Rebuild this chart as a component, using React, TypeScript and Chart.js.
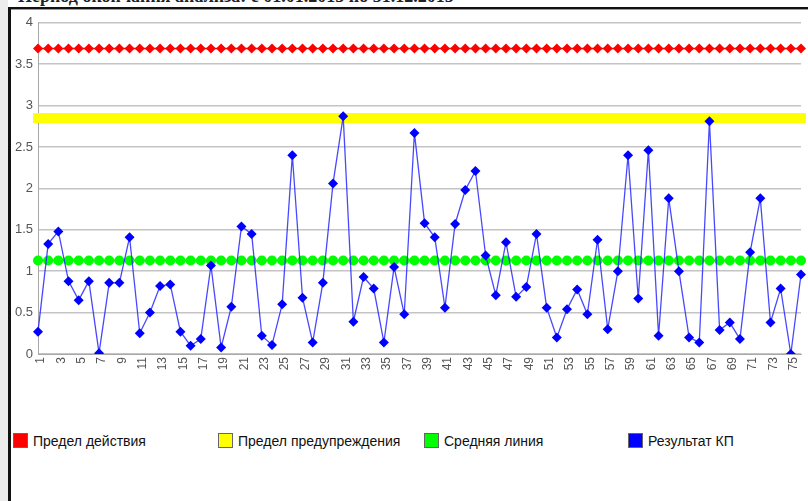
import React, { useEffect, useRef } from "react";
import { Chart, registerables } from "chart.js";

Chart.register(...registerables);

const categories: string[] = [
  "1","2","3","4","5","6","7","8","9","10","11","12","13","14","15","16","17","18","19","20",
  "21","22","23","24","25","26","27","28","29","30","31","32","33","34","35","36","37","38","39","40",
  "41","42","43","44","45","46","47","48","49","50","51","52","53","54","55","56","57","58","59","60",
  "61","62","63","64","65","66","67","68","69","70","71","72","73","74","75","76",
];

const resultValues: number[] = [
  0.27, 1.33, 1.48, 0.88, 0.65, 0.88, 0.01, 0.86, 0.86, 1.41,
  0.25, 0.50, 0.82, 0.84, 0.27, 0.10, 0.18, 1.07, 0.08, 0.57,
  1.54, 1.45, 0.22, 0.11, 0.60, 2.40, 0.68, 0.14, 0.86, 2.06,
  2.87, 0.39, 0.93, 0.79, 0.14, 1.05, 0.48, 2.67, 1.58, 1.41,
  0.56, 1.57, 1.98, 2.21, 1.19, 0.71, 1.35, 0.69, 0.81, 1.45,
  0.56, 0.20, 0.54, 0.78, 0.48, 1.38, 0.30, 1.00, 2.40, 0.67,
  2.46, 0.22, 1.88, 1.00, 0.20, 0.14, 2.81, 0.29, 0.38, 0.18,
  1.23, 1.88, 0.38, 0.79, 0.00, 0.96,
];

const actionLimit = 3.69;
const warningLimit = 2.85;
const meanLine = 1.13;

const seriesNames: string[] = [
  "Предел действия",
  "Предел предупреждения",
  "Средняя линия",
  "Результат КП",
];
const seriesColors: string[] = ["#ff0000", "#ffff00", "#00ff00", "#0000ff"];

const yTicks: number[] = [0, 0.5, 1, 1.5, 2, 2.5, 3, 3.5, 4];

const titleText = "Период окончания анализа: с 01.01.2015 по 31.12.2015";

export default function App() {
  const canvasRef = useRef<HTMLCanvasElement | null>(null);

  useEffect(() => {
    document.body.style.margin = "0";
    const canvas = canvasRef.current;
    if (!canvas) return;
    const constant = (v: number) => categories.map(() => v);
    const chart = new Chart(canvas, {
      type: "line",
      data: {
        labels: categories,
        datasets: [
          {
            label: seriesNames[0],
            data: constant(actionLimit),
            borderColor: seriesColors[0],
            backgroundColor: seriesColors[0],
            borderWidth: 1.5,
            pointStyle: "rectRot",
            pointRadius: 5,
            pointBorderWidth: 0,
            order: 3,
          },
          {
            label: seriesNames[1],
            data: constant(warningLimit),
            borderColor: seriesColors[1],
            backgroundColor: seriesColors[1],
            borderWidth: 10,
            pointStyle: "rect",
            pointRadius: 7,
            pointBorderWidth: 0,
            order: 3,
          },
          {
            label: seriesNames[2],
            data: constant(meanLine),
            borderColor: seriesColors[2],
            backgroundColor: seriesColors[2],
            borderWidth: 2,
            pointStyle: "circle",
            pointRadius: 5,
            pointBorderWidth: 0,
            order: 2,
          },
          {
            label: seriesNames[3],
            data: resultValues,
            borderColor: "rgba(40,40,255,0.85)",
            backgroundColor: seriesColors[3],
            borderWidth: 1.3,
            pointStyle: "rectRot",
            pointRadius: 5,
            pointBorderWidth: 0,
            order: 1,
          },
        ],
      },
      options: {
        animation: false,
        responsive: false,
        maintainAspectRatio: false,
        layout: { padding: { top: 10, right: 6, left: 0, bottom: 0 } },
        plugins: {
          legend: { display: false },
          tooltip: { enabled: false },
          title: { display: false },
        },
        scales: {
          x: {
            offset: false,
            grid: { display: false, drawTicks: false },
            border: { display: true, color: "#a8a8a8", width: 1 },
            ticks: {
              autoSkip: false,
              maxRotation: 90,
              minRotation: 90,
              padding: 3,
              labelOffset: 3,
              color: "#555555",
              font: { family: "'Liberation Sans', Arial, sans-serif", size: 12 },
              callback: (_v: any, i: number) => (i % 2 === 0 ? categories[i] : ""),
            },
            afterFit: (s: any) => {
              s.height = 36;
              s.paddingLeft = 0;
              s.paddingRight = 0;
            },
          },
          y: {
            min: 0,
            max: 4,
            afterBuildTicks: (s: any) => {
              s.ticks = yTicks.map((v) => ({ value: v }));
            },
            grid: { color: "#c4c4c4", lineWidth: 1.5, drawTicks: false },
            border: { display: true, color: "#a8a8a8", width: 1 },
            ticks: {
              padding: 5,
              color: "#555555",
              font: { family: "'Liberation Sans', Arial, sans-serif", size: 13 },
              callback: (v: any) => String(v),
            },
            afterFit: (s: any) => {
              s.width = 28;
            },
          },
        },
      },
    });
    return () => chart.destroy();
  }, []);

  const legendLefts = [13, 218, 424, 628];

  return (
    <div
      style={{
        position: "relative",
        width: 808,
        height: 501,
        overflow: "hidden",
        background: "#ffffff",
        fontFamily: "'Liberation Sans', Arial, sans-serif",
      }}
    >
      <div style={{ position: "absolute", left: 0, top: 0, width: 8, height: 501, background: "#ececec" }} />
      <div
        style={{
          position: "absolute",
          left: 18,
          top: -13,
          fontWeight: "bold",
          fontSize: 18,
          lineHeight: "18px",
          whiteSpace: "nowrap",
          color: "#222",
          fontFamily: "'Liberation Serif', 'Times New Roman', serif",
        }}
      >
        {titleText}
      </div>
      <div style={{ position: "absolute", left: 8, top: 7, width: 800, height: 2, background: "#111" }} />
      <div style={{ position: "absolute", left: 8, top: 9, width: 800, height: 1, background: "#9a9a9a" }} />
      <div style={{ position: "absolute", left: 8, top: 7, width: 3, height: 494, background: "#111" }} />
      <canvas
        ref={canvasRef}
        width={798}
        height={380}
        style={{ position: "absolute", left: 10, top: 10, width: 798, height: 380 }}
      />
      {seriesNames.map((name, i) => (
        <div
          key={name}
          style={{
            position: "absolute",
            left: legendLefts[i],
            top: 433,
            height: 15,
            display: "flex",
            alignItems: "center",
            whiteSpace: "nowrap",
          }}
        >
          <span
            style={{
              display: "inline-block",
              width: 15,
              height: 15,
              background: seriesColors[i],
              border: "1px solid #666",
              boxSizing: "border-box",
              marginRight: 5,
            }}
          />
          <span style={{ fontSize: 14, color: "#111" }}>{name}</span>
        </div>
      ))}
    </div>
  );
}
